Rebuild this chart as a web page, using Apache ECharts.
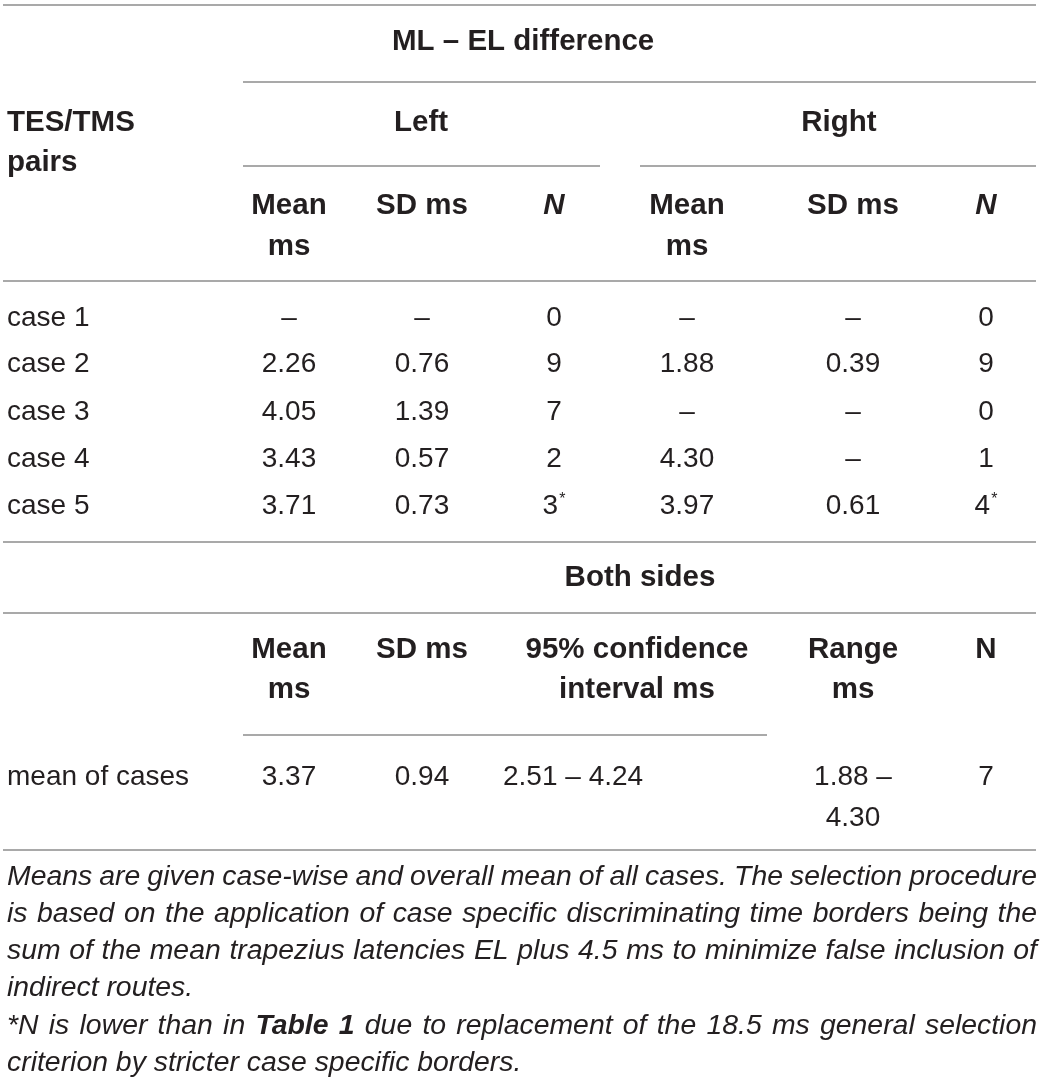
<!DOCTYPE html>
<html>
<head>
<meta charset="utf-8">
<script src="https://cdn.jsdelivr.net/npm/echarts@6/dist/echarts.min.js"></script>
<style>
html,body{margin:0;padding:0;background:#fff;}
#c{width:1043px;height:1086px;}
</style>
</head>
<body>
<div id="c"></div>
<script>
// ---------- table content ----------
const groupTitle = 'ML – EL difference';
const rowHeaderTitle = ['TES/TMS', 'pairs'];
const sideLabels = ['Left', 'Right'];
const subHeaders = [['Mean', 'ms'], ['SD ms'], ['N'], ['Mean', 'ms'], ['SD ms'], ['N']];
const caseLabels = ['case 1', 'case 2', 'case 3', 'case 4', 'case 5'];
const leftMean  = ['–', '2.26', '4.05', '3.43', '3.71'];
const leftSD    = ['–', '0.76', '1.39', '0.57', '0.73'];
const leftN     = ['0', '9', '7', '2', '3*'];
const rightMean = ['–', '1.88', '–', '4.30', '3.97'];
const rightSD   = ['–', '0.39', '–', '–', '0.61'];
const rightN    = ['0', '9', '0', '1', '4*'];
const bothTitle = 'Both sides';
const bothHeaders = [['Mean', 'ms'], ['SD ms'], ['95% confidence', 'interval ms'], ['Range', 'ms'], ['N']];
const summaryLabel = 'mean of cases';
const summaryValues = [['3.37'], ['0.94'], ['2.51 – 4.24'], ['1.88 –', '4.30'], ['7']];
// footnote lines as printed (last line of each paragraph is not justified)
const footLines = [
  { t: 'Means are given case-wise and overall mean of all cases. The selection procedure', j: true },
  { t: 'is based on the application of case specific discriminating time borders being the', j: true },
  { t: 'sum of the mean trapezius latencies EL plus 4.5 ms to minimize false inclusion of', j: true },
  { t: 'indirect routes.', j: false },
  { t: '*N is lower than in **Table 1** due to replacement of the 18.5 ms general selection', j: true },
  { t: 'criterion by stricter case specific borders.', j: false }
];

// ---------- layout (pixels in the hidden value axes) ----------
const W = 1043, H = 1086;
const leftX = 7, rightEdge = 1037;
const colX = [289, 422, 554, 687, 853, 986];
const bothColX = [289, 422, 637, 853, 986];
const rowY = [318, 364, 412, 459, 506];
const FONT = '"Liberation Sans", Arial, Helvetica, sans-serif';
const BOLD = 'bold 29.5px ' + FONT;
const REG = '28px ' + FONT;
const ITAL = 'italic 28.4px ' + FONT;
const BITAL = 'italic bold 28.4px ' + FONT;
const TXT = '#231f20';

const cells = [];
function cell(x, y, text, font, align, extra) {
  cells.push(Object.assign({ value: [x, y], text: text, font: font, align: align || 'center' }, extra || {}));
}
function withSup(s) {
  return s.indexOf('*') >= 0 ? s.replace('*', '{sup|*}') : s;
}

// header block
cell(392, 42, groupTitle, BOLD, 'left');
cell(leftX, 123, rowHeaderTitle[0], BOLD, 'left');
cell(leftX, 163, rowHeaderTitle[1], BOLD, 'left');
cell(421, 123, sideLabels[0], BOLD);
cell(839, 123, sideLabels[1], BOLD);
subHeaders.forEach((h, j) => {
  const f = h[0] === 'N' ? 'italic bold 29.5px ' + FONT : BOLD;
  cell(colX[j], 206, h[0], f);
  if (h[1]) cell(colX[j], 247, h[1], BOLD);
});

// case rows
const cols = [leftMean, leftSD, leftN, rightMean, rightSD, rightN];
caseLabels.forEach((lab, i) => {
  cell(leftX, rowY[i], lab, REG, 'left');
  cols.forEach((arr, j) => cell(colX[j], rowY[i], withSup(arr[i]), REG, 'center', { rich: true }));
});

// both sides block
cell(640, 578, bothTitle, BOLD);
bothHeaders.forEach((h, j) => {
  cell(bothColX[j], 650, h[0], BOLD);
  if (h[1]) cell(bothColX[j], 690, h[1], BOLD);
});
cell(leftX, 777, summaryLabel, REG, 'left');
summaryValues.forEach((v, j) => {
  if (j === 2) cell(503, 777, v[0], REG, 'left');
  else cell(bothColX[j], 777, v[0], REG);
  if (v[1]) cell(bothColX[j], 818, v[1], REG);
});

// rules [x1, x2, y]
const rules = [
  [3, 1036, 5], [243, 1036, 82], [243, 600, 166], [640, 1036, 166],
  [3, 1036, 281], [3, 1036, 542], [3, 1036, 613], [243, 767, 735], [3, 1036, 850]
];

// footnote: justified lines built from word measurement
const mctx = document.createElement('canvas').getContext('2d');
function measure(t, f) { mctx.font = f; return mctx.measureText(t).width; }
const footStartY = 877, footLH = 37.2;
footLines.forEach((ln, li) => {
  const words = [];
  let bold = false;
  ln.t.split(' ').forEach(w => {
    let b = bold;
    if (w.startsWith('**')) { b = true; bold = true; w = w.slice(2); }
    if (w.endsWith('**')) { w = w.slice(0, -2); bold = false; }
    words.push({ t: w, f: b ? BITAL : ITAL });
  });
  const space = measure(' ', ITAL);
  const maxW = rightEdge - leftX;
  words.forEach(w => { w.w = measure(w.t, w.f); });
  const sumW = words.reduce((a, w) => a + w.w, 0);
  const gap = (ln.j && words.length > 1) ? (maxW - sumW) / (words.length - 1) : space;
  const y = footStartY + li * footLH;
  let x = leftX;
  words.forEach(w => { cell(x, y, w.t, w.f, 'left'); x += w.w + gap; });
});

const chart = echarts.init(document.getElementById('c'), null, { renderer: 'canvas' });
chart.setOption({
  backgroundColor: '#fff',
  animation: false,
  grid: { left: 0, right: 0, top: 0, bottom: 0 },
  xAxis: { type: 'value', min: 0, max: W, show: false },
  yAxis: { type: 'value', min: 0, max: H, inverse: true, show: false },
  series: [
    {
      type: 'custom',
      silent: true,
      data: rules.map(r => [r[0], r[1], r[2]]),
      renderItem: function (params, api) {
        const a = api.coord([api.value(0), api.value(2)]);
        const b = api.coord([api.value(1), api.value(2)]);
        return { type: 'line', shape: { x1: a[0], y1: a[1], x2: b[0], y2: b[1] },
                 style: { stroke: '#8c8c8c', lineWidth: 1.6 } };
      }
    },
    {
      type: 'custom',
      silent: true,
      data: cells.map(c => c.value),
      renderItem: function (params, api) {
        const c = cells[params.dataIndex];
        const p = api.coord([api.value(0), api.value(1)]);
        const style = { text: c.text, font: c.font, fill: TXT, align: c.align, verticalAlign: 'middle' };
        if (c.rich) {
          style.rich = { sup: { font: '16px ' + FONT, fill: TXT, verticalAlign: 'top', padding: [0, 0, 13, 1] } };
        }
        return { type: 'text', x: p[0], y: p[1], style: style };
      }
    }
  ]
});
</script>
</body>
</html>
